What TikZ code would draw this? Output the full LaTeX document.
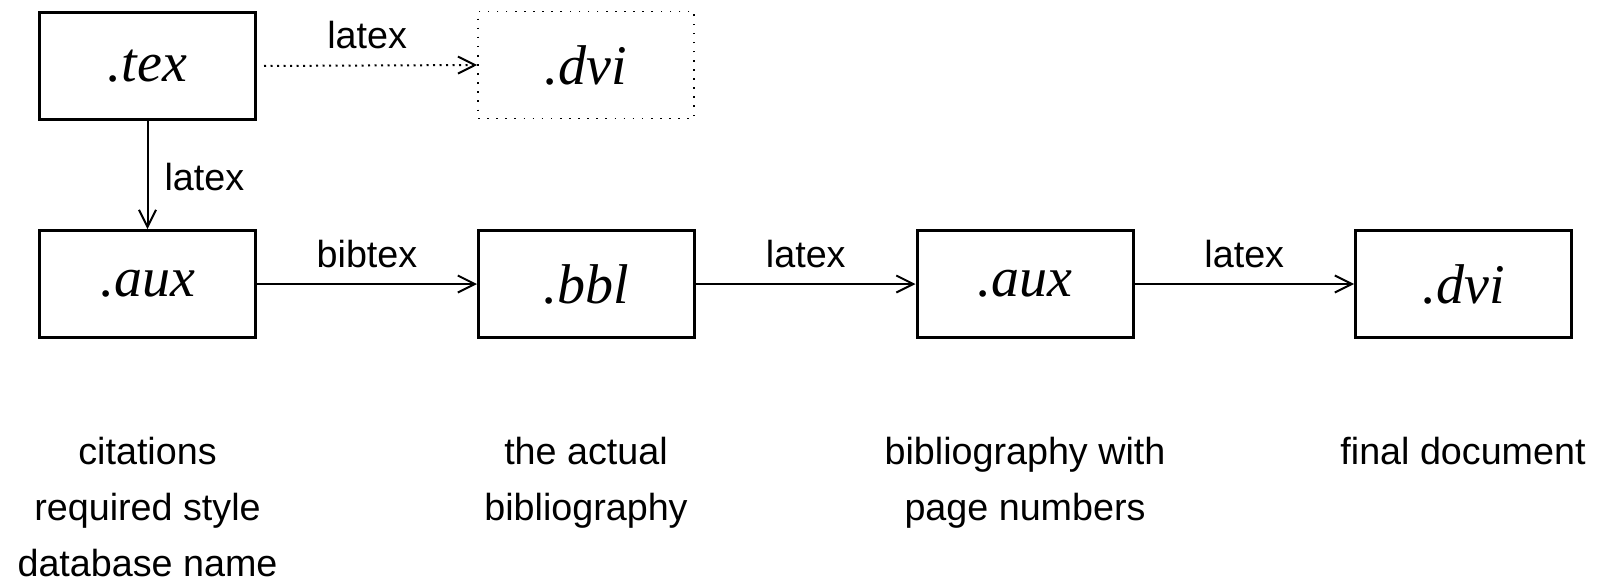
\documentclass[tikz,border=0pt]{standalone}
\usepackage{fontspec}
\setmainfont{Liberation Sans}
\newfontfamily\ser{Liberation Serif}
\usetikzlibrary{arrows.meta}
\tikzset{
  file/.style={draw, line width=3pt, minimum width=216pt, minimum height=107pt, inner sep=0pt,
    font=\ser\itshape\fontsize{56}{60}\selectfont},
  ghost/.style={file, line width=1.6pt, dash pattern=on 1.6pt off 7.5pt},
  conn/.style={line width=2pt, -{Straight Barb[length=17pt,width=17pt,line width=2pt]}},
  lab/.style={font=\fontsize{37.7}{45}\selectfont, inner sep=0pt},
  note/.style={font=\fontsize{37.7}{45}\selectfont, inner sep=0pt, anchor=base}
}
\begin{document}
\begin{tikzpicture}[x=1pt,y=-1pt]
\useasboundingbox (0,0) rectangle (1598,582);
\node[file] (tex) at (147.5,66) {.tex};
\node[ghost] (dviA) at (586,65) {.dvi};
\node[file] (aux) at (147.5,284) {.aux};
\node[file] (bbl) at (586.5,284) {.bbl};
\node[file] (auxB) at (1025,284) {.aux};
\node[file] (dviB) at (1463.5,284) {.dvi};

\draw[conn, dash pattern=on 2pt off 4.5pt, shorten <=7pt] (tex.east) -- (dviA.west)
  node[lab, midway, anchor=base, yshift=17pt] (l0) {latex};
\draw[conn] (tex.south) -- (aux.north)
  node[lab, pos=0.645, anchor=base west, xshift=16pt] (l1) {latex};
\draw[conn] (aux.east) -- (bbl.west)
  node[lab, midway, anchor=base, yshift=17pt] (l2) {bibtex};
\draw[conn] (bbl.east) -- (auxB.west)
  node[lab, midway, anchor=base, yshift=17pt] (l3) {latex};
\draw[conn] (auxB.east) -- (dviB.west)
  node[lab, midway, anchor=base, yshift=17pt] (l4) {latex};

\node[note] (n1a) at (147.5,464) {citations};
\node[note] (n1b) at (147.5,520) {required style};
\node[note] (n1c) at (147.5,576) {database name};
\node[note] (n2a) at (586,464) {the actual};
\node[note] (n2b) at (586,520) {bibliography};
\node[note] (n3a) at (1025,464) {bibliography with};
\node[note] (n3b) at (1025,520) {page numbers};
\node[note] (n4a) at (1463,464) {final document};
\end{tikzpicture}
\end{document}
